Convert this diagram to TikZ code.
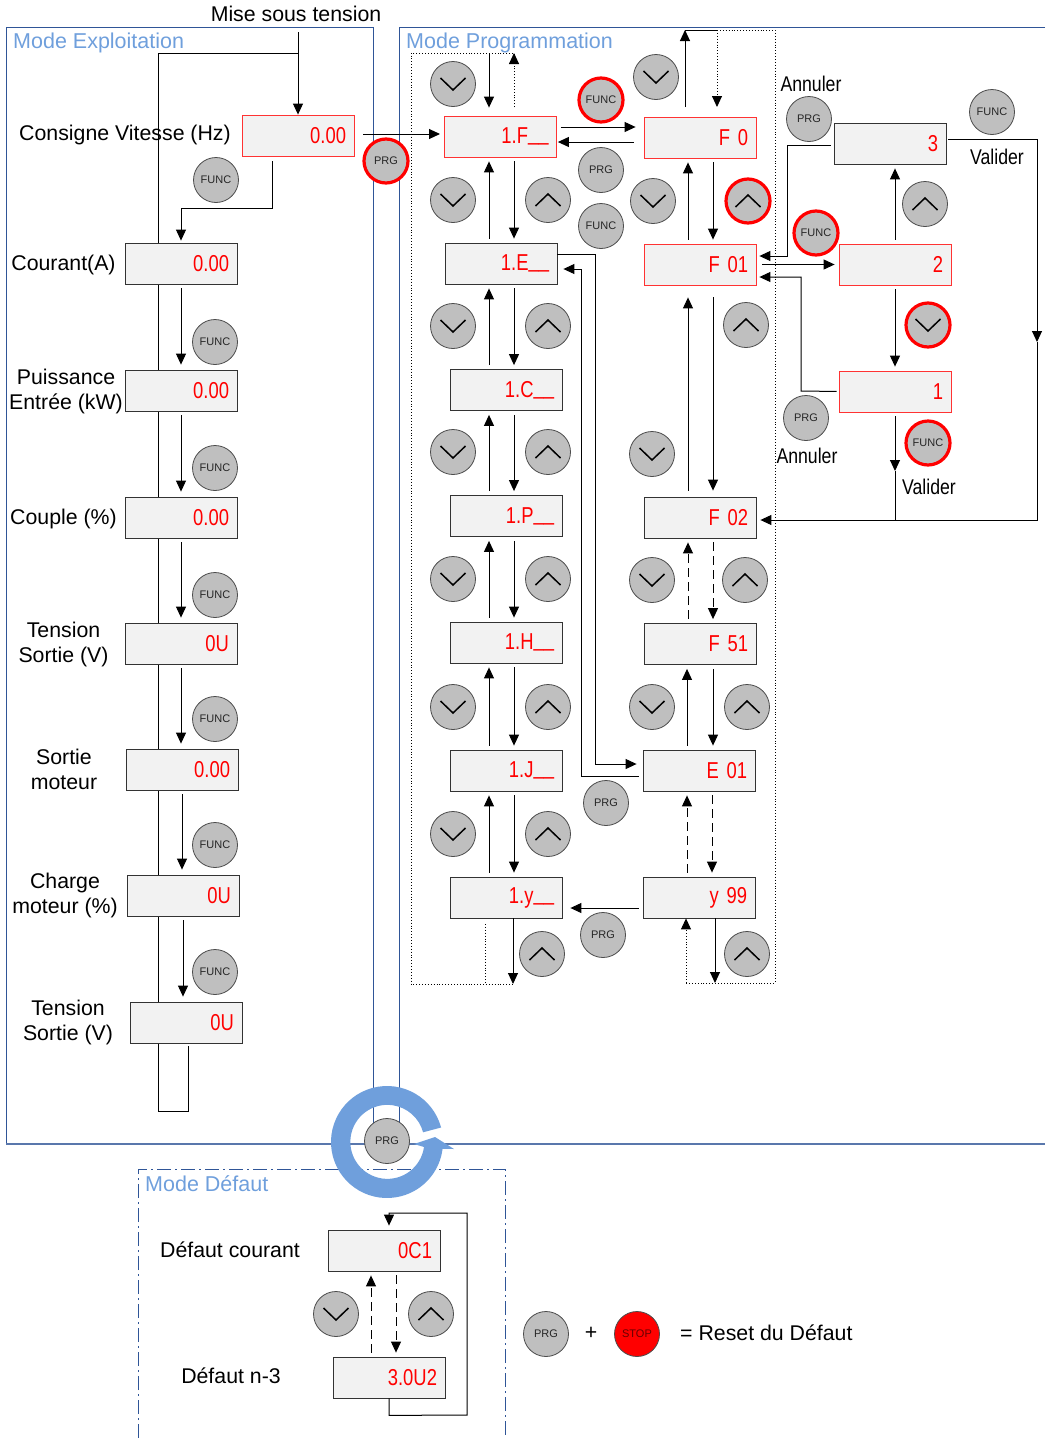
\documentclass[tikz,border=0pt]{standalone}
\usepackage{fontspec}
\setmainfont{Liberation Sans}
\newfontfamily\lcdfont[FakeStretch=0.8]{Liberation Sans}
\usetikzlibrary{arrows.meta,backgrounds}
\definecolor{framec}{HTML}{2F5597}
\definecolor{titlec}{HTML}{6F9FDC}
\definecolor{btnc}{HTML}{BFBFBF}
\definecolor{lcdc}{HTML}{F2F2F2}
\newcommand{\lcdbars}{\raisebox{3pt}{\_\_}}
\tikzset{
  lbl/.style={font=\fontsize{21.3}{25}\selectfont,align=center,inner sep=0pt,yshift=-1.5pt},
  narrowlbl/.style={lbl,xscale=.83},
  modetitle/.style={font=\fontsize{21.5}{25}\selectfont,text=titlec,anchor=west,inner sep=0pt,yshift=-1pt},
  lcd/.style={draw=black!80,line width=.8pt,fill=lcdc,minimum height=41pt,text width=96pt,inner xsep=8pt,inner ysep=0pt,
    align=right,text=red,font=\lcdfont\fontsize{23}{25}\selectfont},
  redlcd/.style={lcd,draw=red!80},
  btn/.style={circle,draw=black!70,line width=.8pt,fill=btnc,minimum size=45pt,inner sep=0pt,text=black!85,font=\fontsize{11}{13}\selectfont},
  redbtn/.style={btn,draw=red,line width=3.2pt,minimum size=44pt},
  dnbtn/.style={path picture={\draw[black,line width=1.5pt] ([shift={(-12.5,-6)}]path picture bounding box.center) -- ++(12.5,12) -- ++(12.5,-12);}},
  upbtn/.style={path picture={\draw[black,line width=1.5pt] ([shift={(-12.5,6)}]path picture bounding box.center) -- ++(12.5,-12) -- ++(12.5,12);}},
  arw/.style={line width=1pt,-{Triangle[length=11pt,width=10pt]},shorten >=4pt,shorten <=4pt},
  arwdash/.style={arw,dash pattern=on 9pt off 5pt},
  box/.style={draw=framec,line width=.8pt},
  dots/.style={line width=.9pt,dotted}
}
\begin{document}
\begin{tikzpicture}[x=1pt,y=-1pt]
\useasboundingbox (0,0) rectangle (1045,1438);
% frames
\draw[box] (6,1144) -- (6,27) -- (373,27) -- (373,1144);
\draw[box] (1045,27) -- (399,27) -- (399,1144);
\draw[draw=framec!80,line width=1.1pt] (6,1144) -- (1045,1144);
\draw[box,dash pattern=on 14pt off 4pt on 2pt off 4pt] (138,1438) -- (138,1169) -- (505,1169) -- (505,1438);
\node[modetitle] (titleexp) at (13,41.5) {Mode Exploitation};
\node[modetitle] (titleprog) at (406,41.5) {Mode Programmation};
\node[modetitle] (titledef) at (145,1183) {Mode Défaut};
% rotating arrow
\coordinate (ring) at (387,1142);
\begin{scope}[shift={(ring)},y=1pt]
\fill[titlec] (15:56) arc[start angle=15,end angle=353,radius=56] -- (67,-7) -- (48,5) -- (27,-2) -- (37,-5)
  arc[start angle=352,end angle=15,radius=37] -- cycle;
\end{scope}
% displays
\node[redlcd] (consigne) at (298,135.5) {0.00};
\node[lcd] (courant) at (181,263.5) {0.00};
\node[lcd] (puissance) at (181,390.5) {0.00};
\node[lcd] (couple) at (181,517.5) {0.00};
\node[lcd] (tensiona) at (181,643.5) {0U};
\node[lcd] (sortie) at (182,769.5) {0.00};
\node[lcd] (charge) at (183,895.5) {0U};
\node[lcd] (tensionb) at (186,1022.5) {0U};
\node[redlcd] (progF) at (500.5,136.5) {1.F\lcdbars};
\node[lcd] (progE) at (501,263.5) {1.E\lcdbars};
\node[lcd] (progC) at (506,390) {1.C\lcdbars};
\node[lcd] (progP) at (506,516) {1.P\lcdbars};
\node[lcd] (progH) at (506,642.5) {1.H\lcdbars};
\node[lcd] (progJ) at (506,770.5) {1.J\lcdbars};
\node[lcd] (progY) at (506,897.5) {1.y\lcdbars};
\node[redlcd] (fzero) at (700,137.5) {F 0};
\node[redlcd] (fone) at (700,264.5) {F 01};
\node[lcd] (ftwo) at (700,517.5) {F 02};
\node[lcd] (ffifty) at (700,644) {F 51};
\node[lcd] (eone) at (699,770.5) {E 01};
\node[lcd] (ynine) at (699,897.5) {y 99};
\node[lcd] (valthree) at (890,143.5) {3};
\node[redlcd] (valtwo) at (895,264.5) {2};
\node[redlcd] (valone) at (895,391.5) {1};
\node[lcd] (defcur) at (384,1250.5) {0C1};
\node[lcd] (defold) at (389,1377.5) {3.0U2};
% labels
\node[lbl] (misetxt) at (296,12.5) {Mise sous tension};
\node[lbl] (consignetxt) at (125,133) {Consigne Vitesse (Hz)};
\node[lbl] (couranttxt) at (63.5,263) {Courant(A)};
\node[lbl] (puissancetxt) at (66,390) {Puissance\\Entrée (kW)};
\node[lbl] (coupletxt) at (63.5,517) {Couple (\%)};
\node[lbl] (tensionatxt) at (63.5,643) {Tension\\Sortie (V)};
\node[lbl] (sortietxt) at (64,768) {Sortie\\moteur};
\node[lbl] (chargetxt) at (65,894) {Charge\\moteur (\%)};
\node[lbl] (tensionbtxt) at (68,1021) {Tension\\Sortie (V)};
\node[narrowlbl] (annulera) at (811,82) {Annuler};
\node[narrowlbl] (validera) at (997,155) {Valider};
\node[narrowlbl] (annulerb) at (807,454) {Annuler};
\node[narrowlbl] (validerb) at (929,485) {Valider};
\node[lbl] (defcurtxt) at (230,1248.5) {Défaut courant};
\node[lbl] (defoldtxt) at (231,1374.5) {Défaut n-3};
\node[lbl] (plustxt) at (591,1332) {+};
\node[lbl,anchor=west] (resettxt) at (680,1331.5) {= Reset du Défaut};
% buttons
\foreach \px/\py in {216/180,215/342,215/468,215/595,215/719,215/845,215/972,601/226,992/112}
  \node[btn] (func\px\py) at (\px,\py) {FUNC};
\foreach \px/\py in {601/100,816/233,928/443}
  \node[redbtn] (func\px\py) at (\px,\py) {FUNC};
\foreach \px/\py in {601/170,606/803,603/935,809/119,806/418,387/1141,546/1334}
  \node[btn] (prg\px\py) at (\px,\py) {PRG};
\node[redbtn] (prgred) at (386,161) {PRG};
\node[btn,fill=red,text=black!60!red] (stopbtn) at (637,1334) {STOP};
\foreach \px/\py in {453/84,453/200,453/326,453/452,453/579,453/707,453/834,656/77,653/201,652/454,652/580,652/707,336/1314}
  \node[btn,dnbtn] (dn\px\py) at (\px,\py) {};
\foreach \px/\py in {548/200,548/326,548/452,548/579,548/707,548/834,542/954,746/325,745/580,747/707,747/954,925/204,431/1314}
  \node[btn,upbtn] (up\px\py) at (\px,\py) {};
\node[redbtn,upbtn] (upred) at (748,201) {};
\node[redbtn,dnbtn] (dnred) at (928,325) {};
% mode exploitation
\coordinate (mise) at (298,32);
\coordinate (misebend) at (298,53);
\begin{scope}[on background layer]
\draw[line width=1pt] (misebend) -- (158,53) -- (158,1111) -- (188,1111) -- (188,1046);
\end{scope}
\draw[arw,shorten <=0pt,shorten >=0pt] (mise) -- (consigne.north);
\draw[arw,shorten <=0pt,shorten >=2pt] ([shift={(-26,5)}]consigne.south) |- ++(-45,47) -| (courant.north);
\foreach \ua/\ub in {courant/puissance,puissance/couple,couple/tensiona,tensiona/sortie,sortie/charge,charge/tensionb}
  \draw[arw,shorten >=5pt] (\ua.south) -- (\ua.south |- \ub.north);
\draw[arw,shorten <=0pt,shorten >=0pt] (363,134) -- (440,134);
% mode programmation, left column
\foreach \ua/\ub in {progF/progE,progE/progC,progC/progP,progP/progH,progH/progJ,progJ/progY}{
  \draw[arw] (489,0 |- \ub.north) -- (489,0 |- \ua.south);
  \draw[arw] (514,0 |- \ua.south) -- (514,0 |- \ub.north);
}
\draw[dots] (514,107) -- (514,53) -- (411,53) -- (411,984) -- (513,984);
\draw[dots] (485,924) -- (485,984);
\draw[dots,-{Triangle[length=11pt,width=10pt]}] (514,107) -- (514,53);
\draw[arw,shorten <=0pt,shorten >=8pt] (489,53) -- (489,0 |- progF.north);
\draw[arw,shorten <=0pt,shorten >=0pt] (513,0 |- progY.south) -- (513,984);
% mode programmation, right column
\draw[arw] (688,0 |- fone.north) -- (688,0 |- fzero.south);
\draw[arw] (713,0 |- fzero.south) -- (713,0 |- fone.north);
\draw[arw,shorten >=12pt,shorten <=6pt] (688,0 |- ftwo.north) -- (688,0 |- fone.south);
\draw[arw,shorten >=6pt,shorten <=12pt] (713,0 |- fone.south) -- (713,0 |- ftwo.north);
\draw[arwdash] (688,0 |- ffifty.north) -- (688,0 |- ftwo.south);
\draw[arwdash] (713,0 |- ftwo.south) -- (713,0 |- ffifty.north);
\draw[arw] (687,0 |- eone.north) -- (687,0 |- ffifty.south);
\draw[arw] (713,0 |- ffifty.south) -- (713,0 |- eone.north);
\draw[arwdash] (687,0 |- ynine.north) -- (687,0 |- eone.south);
\draw[arwdash] (712,0 |- eone.south) -- (712,0 |- ynine.north);
\draw[line width=1pt] (685,30) -- (717,30);
\draw[-{Triangle[length=11pt,width=10pt]},line width=1pt] (685,107) -- (685,30);
\draw[dots,-{Triangle[length=11pt,width=10pt]}] (717,30) -- (717,107);
\draw[dots] (717,30) -- (775,30) -- (775,983) -- (686,983);
\draw[dots,-{Triangle[length=11pt,width=10pt]}] (686,983) -- (686,0 |- ynine.south);
\draw[arw,shorten <=0pt,shorten >=0pt] (715,0 |- ynine.south) -- (715,983);
% between the columns
\draw[arw,shorten >=8pt] ([yshift=9.5pt]progF.east) -- ([yshift=9.5pt]progF.east -| fzero.west);
\draw[arw,shorten <=10pt,shorten >=1pt] ([yshift=-5.5pt]progF.east -| fzero.west) -- ([yshift=-5.5pt]progF.east);
\draw[arw,shorten >=8pt] ([yshift=-10.5pt]ynine.west) -- ([yshift=-10.5pt]progY.east);
\draw[arw,shorten <=0pt,shorten >=6pt] ([yshift=9.5pt]progE.east) -- (595,254) -- (595,764) -- ([yshift=6.5pt]eone.west);
\draw[arw,shorten >=6pt] ([yshift=-5.5pt]eone.west) -- (581,776) -- (581,269) -- ([yshift=-5.5pt]progE.east);
\draw[arw,shorten <=6pt] (fone.east) -- (valtwo.west);
% parameter digits
\draw[arw] (valtwo.north) -- (valthree.south -| valtwo.north);
\draw[arw] (valtwo.south) -- (valone.north);
\draw[arw,shorten <=3pt,shorten >=3pt] ([yshift=-1.5pt]valthree.west) -- (787,145) -- (787,256) -- ([yshift=8.5pt]fone.east);
\draw[arw,shorten <=2pt,shorten >=3pt] (valone.west) -- (801,391) -- (801,277) -- ([yshift=-12.5pt]fone.east);
\coordinate (validjoin) at (895,520);
\coordinate (validmida) at (895,471);
\coordinate (validmidb) at (1037,342);
\draw[arw,shorten >=0pt] (valone.south) -- (validmida);
\draw[line width=1pt] (validmida) -- (validjoin);
\draw[arw,shorten >=0pt,shorten <=2pt] ([yshift=4.5pt]valthree.east) -- (1037,139) -- (validmidb);
\draw[line width=1pt] (validmidb) -- (1037,520) -- (validjoin);
\draw[arw,shorten <=0pt] (validjoin) -- (ftwo.east |- validjoin);
% mode defaut
\draw[arw,shorten <=0pt,shorten >=4pt] (defold.south) -- ++(0,17) -- (467,1415) -- (467,1213) -- (389,1213) -- (389,0 |- defcur.north);
\draw[arwdash] (371,0 |- defold.north) -- (371,0 |- defcur.south);
\draw[arwdash] (396,0 |- defcur.south) -- (396,0 |- defold.north);
\end{tikzpicture}
\end{document}
